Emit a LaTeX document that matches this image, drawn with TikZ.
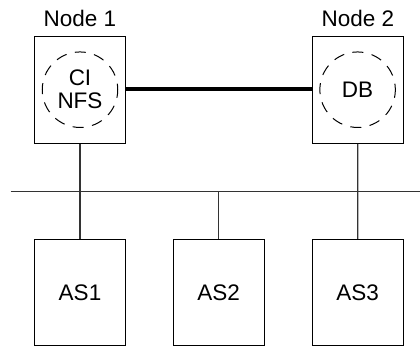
\documentclass[tikz,border=0pt]{standalone}
\usepackage{fontspec}
\setmainfont{Liberation Sans}
\begin{document}
\begin{tikzpicture}[x=1pt,y=-1pt,
  every node/.style={font=\fontsize{22.5}{24}\selectfont, text=black},
  box/.style={draw=black, line width=1pt, minimum width=91.4pt, minimum height=107.3pt, inner sep=0pt},
  asbox/.style={draw=black, line width=1pt, minimum width=91.4pt, minimum height=106.4pt, inner sep=0pt},
  proc/.style={draw=black, circle, dash pattern=on 11pt off 8.5pt, dash phase=5pt, line width=1pt, minimum size=75.5pt, inner sep=0pt, align=center},
  conn/.style={draw=black!80, line width=1.3pt},
  lbl/.style={anchor=base}]
\useasboundingbox (0,0) rectangle (420,347);
\node[box] (n1) at (80,89.7) {};
\node[box] (n2) at (357.8,89.7) {};
\node[proc] (p1) at (80,89.7) {CI\\[-1pt]NFS};
\node[proc] (p2) at (357.6,89.7) {DB};
\node[lbl] (l1) at (80,26.7) {Node 1};
\node[lbl] (l2) at (357.8,26.7) {Node 2};
\node[asbox] (a1) at (80,292.5) {AS1};
\node[asbox] (a2) at (218.7,292.5) {AS2};
\node[asbox] (a3) at (357.7,292.5) {AS3};
\coordinate (bl) at (10.7,191.3);
\coordinate (br) at (420,191.3);
\coordinate (b2) at (218.7,191.3);
\draw[line width=4pt] (n1.east |- 0,88.7) -- (n2.west |- 0,88.7);
\draw[conn] (bl) -- (br);
\draw[conn] (n1.south) -- (a1.north);
\draw[conn] (n2.south) -- (a3.north);
\draw[conn] (b2) -- (a2.north);
\end{tikzpicture}
\end{document}
